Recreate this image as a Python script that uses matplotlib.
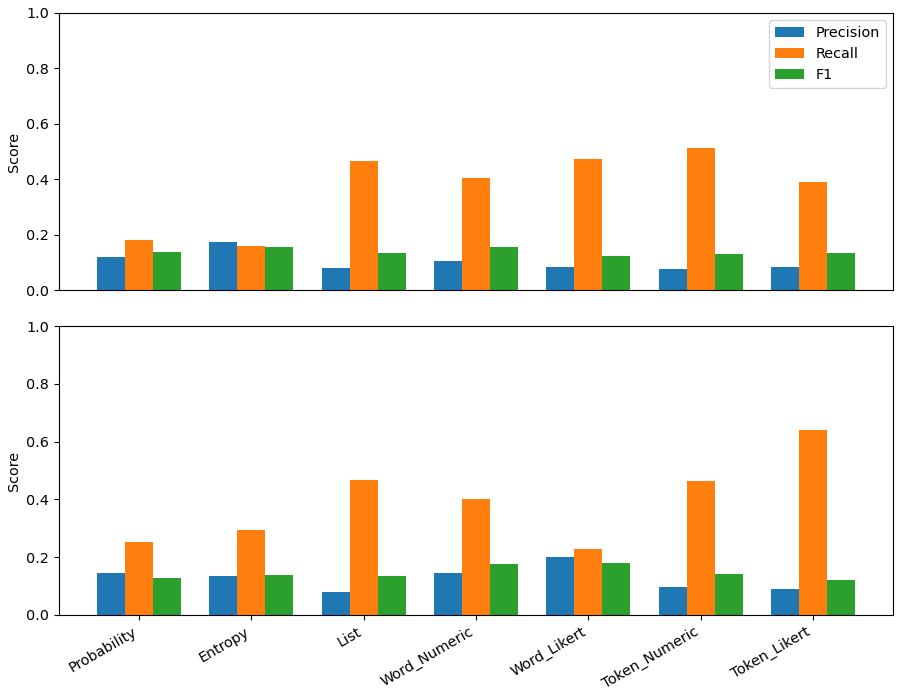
import numpy as np
import matplotlib.pyplot as plt

plt.rcParams['font.size'] = 10.4

methods = ['Probability', 'Entropy', 'List', 'Word_Numeric', 'Word_Likert', 'Token_Numeric', 'Token_Likert']

# top panel
precision_top = [0.119, 0.172, 0.080, 0.106, 0.083, 0.077, 0.084]
recall_top = [0.182, 0.160, 0.466, 0.405, 0.473, 0.511, 0.391]
f1_top = [0.137, 0.156, 0.134, 0.155, 0.123, 0.130, 0.135]

# bottom panel
precision_bot = [0.147, 0.135, 0.081, 0.146, 0.199, 0.098, 0.089]
recall_bot = [0.254, 0.293, 0.466, 0.403, 0.230, 0.463, 0.640]
f1_bot = [0.127, 0.140, 0.134, 0.175, 0.181, 0.143, 0.120]

x = np.arange(len(methods))
w = 0.25

fig = plt.figure(figsize=(9.01, 6.95), dpi=100)
ax1 = fig.add_axes([59/901, 405/695, 834/901, 277/695])
ax2 = fig.add_axes([59/901, 80/695, 834/901, 289/695])

for ax, p, r, f in [(ax1, precision_top, recall_top, f1_top),
                    (ax2, precision_bot, recall_bot, f1_bot)]:
    ax.bar(x - w, p, w, label='Precision')
    ax.bar(x, r, w, label='Recall')
    ax.bar(x + w, f, w, label='F1')
    ax.set_ylim(0, 1)
    ax.set_ylabel('Score')

ax1.set_xticks([])
ax1.legend(loc='upper right')
ax2.set_xticks(x)
ax2.set_xticklabels(methods, rotation=30, ha='right')

plt.savefig('out.png', dpi=100)
